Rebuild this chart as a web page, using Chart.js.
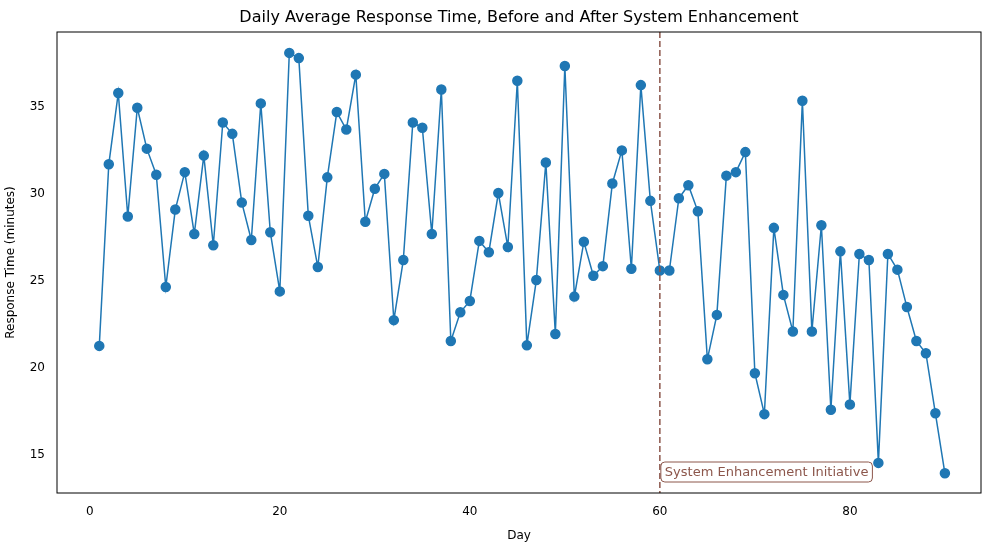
<!DOCTYPE html>
<html><head><meta charset="utf-8">
<script src="https://cdn.jsdelivr.net/npm/chart.js@4"></script>
<style>html,body{margin:0;padding:0;background:#fff}#w{width:996px;height:547px}</style>
</head><body><div id="w"><canvas id="c"></canvas></div>
<script>
const days = Array.from({length:90},(_,i)=>i+1);
const responseTimes = [21.27,31.7,35.8,28.7,34.95,32.6,31.1,24.65,29.1,31.25,27.7,32.2,27.05,34.1,33.45,29.5,27.35,35.2,27.8,24.4,
38.1,37.8,28.75,25.8,30.95,34.7,33.7,36.85,28.4,30.3,31.15,22.75,26.2,34.1,33.8,27.7,36.0,21.55,23.2,23.85,
27.3,26.65,30.05,26.95,36.5,21.3,25.05,31.8,21.95,37.35,24.1,27.25,25.3,25.85,30.6,32.5,25.7,36.25,29.6,25.6,
25.6,29.75,30.5,29.0,20.5,23.05,31.05,31.25,32.4,19.7,17.35,28.05,24.2,22.1,35.35,22.1,28.2,17.6,26.7,17.9,
26.55,26.2,14.55,26.55,25.65,23.5,21.55,20.85,17.4,13.95];
const xTicks = [0,20,40,60,80];
const yTicks = [15,20,25,30,35];
const enhancementDay = 60;
const annotationText = 'System Enhancement Initiative';
const F = 'DejaVu Sans';
const overlay = {
  id:'overlay',
  afterDatasetsDraw(ch){
    const {ctx, chartArea:a, scales:{x,y}} = ch;
    ctx.save();
    const px = x.getPixelForValue(enhancementDay);
    ctx.strokeStyle = '#8c564b'; ctx.lineWidth = 1.5; ctx.setLineDash([6,3]);
    ctx.beginPath(); ctx.moveTo(px,a.top); ctx.lineTo(px,a.bottom); ctx.stroke();
    ctx.setLineDash([]);
    ctx.font = '13px '+F; ctx.textBaseline='middle';
    const tw = ctx.measureText(annotationText).width;
    const bx = px+1, by = 462, bw = tw+8, bh = 20;
    ctx.fillStyle='#fff'; ctx.strokeStyle='#8c564b'; ctx.lineWidth=1;
    ctx.beginPath(); ctx.roundRect(bx,by,bw,bh,4); ctx.fill(); ctx.stroke();
    ctx.fillStyle='#8c564b'; ctx.fillText(annotationText,bx+4,by+bh/2+1);
    ctx.strokeStyle='#000'; ctx.lineWidth=1;
    ctx.strokeRect(a.left,a.top,a.right-a.left,a.bottom-a.top);
    ctx.fillStyle='#000'; ctx.font='16px '+F; ctx.textAlign='center'; ctx.textBaseline='middle';
    ctx.fillText('Daily Average Response Time, Before and After System Enhancement',(a.left+a.right)/2,18);
    ctx.restore();
  }
};
new Chart(document.getElementById('c'),{
  type:'line',
  data:{datasets:[{data:days.map((d,i)=>({x:d,y:responseTimes[i]})),borderColor:'#1f77b4',backgroundColor:'#1f77b4',
    borderWidth:1.5,pointRadius:4.5,pointHoverRadius:4.5,tension:0}]},
  options:{responsive:true,maintainAspectRatio:false,animation:false,
    layout:{padding:{top:32,right:15,left:0,bottom:0}},
    plugins:{legend:{display:false},tooltip:{enabled:false}},
    scales:{
      x:{type:'linear',min:-3.45,max:93.8,grid:{display:false},border:{display:false},
        afterBuildTicks(s){s.ticks=xTicks.map(v=>({value:v}));},
        afterFit(s){s.height=54;},
        ticks:{color:'#000',font:{family:F,size:12},padding:4},
        title:{display:true,text:'Day',color:'#000',font:{family:F,size:12},padding:{top:2}}},
      y:{min:12.82,max:39.3,grid:{display:false},border:{display:false},
        afterBuildTicks(s){s.ticks=yTicks.map(v=>({value:v}));},
        afterFit(s){s.width=57;},
        ticks:{color:'#000',font:{family:F,size:12},padding:4},
        title:{display:true,text:'Response Time (minutes)',color:'#000',font:{family:F,size:12},padding:{bottom:2}}}
    }},
  plugins:[overlay]
});
</script></body></html>
